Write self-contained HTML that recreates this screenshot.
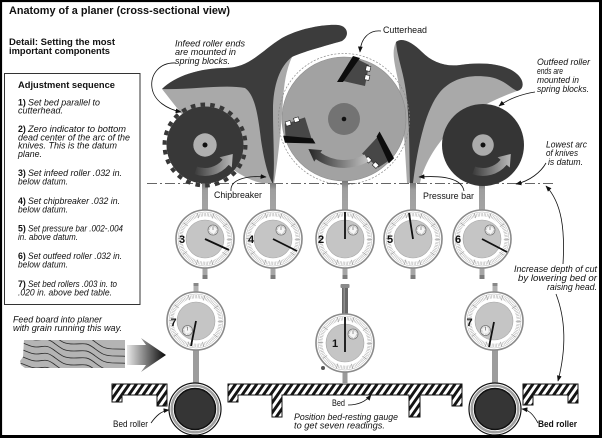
<!DOCTYPE html>
<html><head><meta charset="utf-8"><style>
html,body{margin:0;padding:0;background:#fff;}
svg{display:block;}
text{font-family:"Liberation Sans",Arial,sans-serif;fill:#111;}
.i{font-style:italic;font-size:8.8px;}
.b{font-weight:bold;}
.r{font-size:9.3px;}
.num{font-weight:bold;font-size:11px;text-anchor:middle;}
.ld{fill:none;stroke:#111;stroke-width:0.8;marker-end:url(#ah);}
</style></head><body>
<svg width="602" height="438" viewBox="0 0 602 438" xmlns="http://www.w3.org/2000/svg" xmlns:xlink="http://www.w3.org/1999/xlink">
<defs>
<marker id="ah" markerUnits="userSpaceOnUse" markerWidth="6" markerHeight="6" viewBox="0 0 10 10" refX="9" refY="5" orient="auto"><path d="M0,1 L10,5 L0,9 z" fill="#111"/></marker>
<pattern id="hatch" patternUnits="userSpaceOnUse" width="5.8" height="6" patternTransform="rotate(35)"><rect width="5.8" height="6" fill="#fff"/><rect width="2.9" height="6" fill="#151515"/></pattern>
<linearGradient id="gA" x1="0" x2="1" y1="0" y2="0"><stop offset="0" stop-color="#3a3a3a"/><stop offset="1" stop-color="#b8b8b8"/></linearGradient>
<linearGradient id="gC" x1="0" x2="1" y1="0" y2="0"><stop offset="0" stop-color="#252525"/><stop offset="1" stop-color="#c2c2c2"/></linearGradient>
<linearGradient id="gB" x1="0" x2="1" y1="0" y2="0"><stop offset="0" stop-color="#e8e8e8"/><stop offset="1" stop-color="#080808"/></linearGradient>
<linearGradient id="stem" x1="0" x2="0" y1="0" y2="1"><stop offset="0" stop-color="#777"/><stop offset="0.25" stop-color="#9e9e9e"/><stop offset="1" stop-color="#a4a4a4"/></linearGradient>
<clipPath id="boardClip"><path d="M24,340 L125,340 L125,368 L25,368 L21,365 L20,361 L23,357 Z"/></clipPath>
<g id="face">
<circle r="29" fill="#fff" stroke="#8a8a8a" stroke-width="1.6"/>
<circle r="27" fill="none" stroke="#b5b5b5" stroke-width="0.5"/>
<circle r="24.3" fill="none" stroke="#a8a8a8" stroke-width="3.4" stroke-dasharray="0.5 1.03"/>
<circle r="24.3" fill="none" stroke="#999" stroke-width="5" stroke-dasharray="0.7 14.57"/>
<circle r="19" fill="#c5c5c5" stroke="#a5a5a5" stroke-width="0.6"/>
</g>
<g id="sub">
<circle r="5" fill="#f6f6f6" stroke="#777" stroke-width="0.8"/>
<circle r="3.7" fill="none" stroke="#999" stroke-width="1.3" stroke-dasharray="0.4 1.05"/>
<line x1="0" y1="0" x2="0" y2="-3.5" stroke="#555" stroke-width="0.6"/>
</g>
<g id="knife">
<polygon points="343,81 357,59 369,65 365,86" fill="#474747"/>
<polygon points="337,82 353,56 360,58 343,82" fill="#0d0d0d"/>
<rect x="366" y="66" width="4.5" height="5" fill="#fff" stroke="#222" stroke-width="0.6" transform="rotate(13 368 68)"/>
<rect x="365" y="75" width="4.5" height="5" fill="#fff" stroke="#222" stroke-width="0.6" transform="rotate(13 367 77)"/>
</g>
</defs>

<rect x="0" y="0" width="602" height="438" fill="#fff"/>

<!-- Title & headings -->
<text x="9" y="14" class="b" font-size="11" textLength="221" lengthAdjust="spacingAndGlyphs">Anatomy of a planer (cross-sectional view)</text>
<text x="9" y="45" class="b" font-size="9" textLength="106" lengthAdjust="spacingAndGlyphs">Detail: Setting the most</text>
<text x="9" y="54" class="b" font-size="9" textLength="101" lengthAdjust="spacingAndGlyphs">important components</text>

<!-- Adjustment box -->
<rect x="4.5" y="73.5" width="135.5" height="231" fill="none" stroke="#333" stroke-width="1"/>
<text x="18" y="88" class="b" font-size="9.3" textLength="97" lengthAdjust="spacingAndGlyphs">Adjustment sequence</text>

<text x="18" y="105.5" class="b" font-size="8.8">1)</text>
<text x="28" y="105.5" class="i" textLength="72" lengthAdjust="spacingAndGlyphs">Set bed parallel to</text>
<text x="18" y="113.5" class="i" textLength="45" lengthAdjust="spacingAndGlyphs">cutterhead.</text>

<text x="18" y="132" class="b" font-size="8.8">2)</text>
<text x="28" y="132" class="i" textLength="98" lengthAdjust="spacingAndGlyphs">Zero indicator to bottom</text>
<text x="18" y="140.3" class="i" textLength="112" lengthAdjust="spacingAndGlyphs">dead center of the arc of the</text>
<text x="18" y="148.6" class="i" textLength="99" lengthAdjust="spacingAndGlyphs">knives. This is the datum</text>
<text x="18" y="157" class="i" textLength="24" lengthAdjust="spacingAndGlyphs">plane.</text>

<text x="18" y="176" class="b" font-size="8.8">3)</text>
<text x="28" y="176" class="i" textLength="94" lengthAdjust="spacingAndGlyphs">Set infeed roller .032 in.</text>
<text x="18" y="184.5" class="i" textLength="50" lengthAdjust="spacingAndGlyphs">below datum.</text>

<text x="18" y="204" class="b" font-size="8.8">4)</text>
<text x="28" y="204" class="i" textLength="92" lengthAdjust="spacingAndGlyphs">Set chipbreaker .032 in.</text>
<text x="18" y="212.5" class="i" textLength="50" lengthAdjust="spacingAndGlyphs">below datum.</text>

<text x="18" y="231.5" class="b" font-size="8.8">5)</text>
<text x="28" y="231.5" class="i" textLength="95" lengthAdjust="spacingAndGlyphs">Set pressure bar .002-.004</text>
<text x="18" y="240" class="i" textLength="60" lengthAdjust="spacingAndGlyphs">in. above datum.</text>

<text x="18" y="259" class="b" font-size="8.8">6)</text>
<text x="28" y="259" class="i" textLength="94" lengthAdjust="spacingAndGlyphs">Set outfeed roller .032 in.</text>
<text x="18" y="267.5" class="i" textLength="50" lengthAdjust="spacingAndGlyphs">below datum.</text>

<text x="18" y="287" class="b" font-size="8.8">7)</text>
<text x="28" y="287" class="i" textLength="89" lengthAdjust="spacingAndGlyphs">Set bed rollers .003 in. to</text>
<text x="18" y="295.5" class="i" textLength="94" lengthAdjust="spacingAndGlyphs">.020 in. above bed table.</text>

<!-- Feed board -->
<text x="13" y="322.5" class="i" textLength="89" lengthAdjust="spacingAndGlyphs">Feed board into planer</text>
<text x="13" y="331" class="i" textLength="109" lengthAdjust="spacingAndGlyphs">with grain running this way.</text>
<path d="M24,340 L125,340 L125,368 L25,368 L21,365 L20,361 L23,357 Z" fill="#b4b4b4"/>
<g clip-path="url(#boardClip)" fill="none" stroke="#2a2a2a" stroke-width="0.8">
<path d="M16,322 c6,-3 12,4 20,4 s10,-3 18,3 s10,8 20,8 s12,-2 20,4 s10,8 22,8 s10,0 16,4"/>
<path d="M16,329 c6,-3 12,4 20,4 s10,-3 18,3 s10,8 20,8 s12,-2 20,4 s10,8 22,8 s10,0 16,4"/>
<path d="M16,336 c6,-3 12,4 20,4 s10,-3 18,3 s10,8 20,8 s12,-2 20,4 s10,8 22,8 s10,0 16,4"/>
<path d="M16,343 c6,-3 12,4 20,4 s10,-3 18,3 s10,8 20,8 s12,-2 20,4 s10,8 22,8 s10,0 16,4"/>
<path d="M16,350 c6,-3 12,4 20,4 s10,-3 18,3 s10,8 20,8 s12,-2 20,4 s10,8 22,8 s10,0 16,4"/>
<path d="M16,357 c6,-3 12,4 20,4 s10,-3 18,3 s10,8 20,8 s12,-2 20,4 s10,8 22,8 s10,0 16,4"/>
<path d="M16,364 c6,-3 12,4 20,4 s10,-3 18,3 s10,8 20,8 s12,-2 20,4 s10,8 22,8 s10,0 16,4"/>
</g>
<path d="M127,345 L146,345 L141,338 L166,355 L141,372 L146,365 L127,365 Z" fill="url(#gB)"/>

<!-- Left housing -->
<path d="M162,89 C175,76 200,68 225,68 C250,68 262,50 282,38 C300,28 325,24 338,25 C348,26 350,36 342,41 C325,46 302,52 292,57 C286,70 284,85 283,100 C281,130 278,160 274,184 L262,183 C245,180 225,165 210,150 C195,130 180,112 162,89 Z" fill="#a9a9a9"/>
<path d="M162,89 C175,76 200,68 225,68 C250,68 262,50 282,38 C300,28 325,24 338,25 C348,26 350,36 342,41 C325,46 302,52 292,57 C280,66 273,85 273,110 C273,140 275,165 273,184 C268,176 264,160 261,140 C258,115 255,95 245,88 C225,84 190,90 162,89 Z" fill="#3c3c3c"/>

<!-- Right housing -->
<path d="M396,42 C402,37 412,42 422,52 C432,62 445,67 460,65 C480,62 505,63 517,74 C525,81 524,90 517,91 C500,97 475,108 455,125 C440,140 425,160 420,183 L407,183 C405,150 403,110 398,80 C395,65 391,52 396,42 Z" fill="#a9a9a9"/>
<path d="M396,42 C402,37 412,42 422,52 C432,62 445,67 460,65 C480,62 505,63 517,74 C525,81 524,90 517,91 C510,88 505,80 490,77 C470,74 452,78 440,92 C425,110 417,150 413,183 L410,183 C409,150 410,110 404,80 C401,65 397,55 396,42 Z" fill="#3c3c3c"/>

<!-- Cutterhead -->
<circle cx="344" cy="119" r="65.5" fill="none" stroke="#8a8a8a" stroke-width="0.7" stroke-dasharray="2 1.6"/>
<circle cx="344" cy="119" r="62" fill="#a2a2a2" stroke="#8c8c8c" stroke-width="0.6"/>
<use xlink:href="#knife"/>
<use xlink:href="#knife" transform="rotate(120 344 119)"/>
<use xlink:href="#knife" transform="rotate(240 344 119)"/>
<circle cx="344" cy="119" r="16" fill="#737373"/>
<circle cx="344" cy="119" r="2.3" fill="#111"/>
<path d="M368.5,161.4 A49,49 0 0 1 315.9,159.1 L314.2,161.6 L308.4,149 L322.2,150.1 L320.5,152.6 A41,41 0 0 0 364.5,154.5 Z" fill="url(#gC)"/>

<!-- Datum line -->
<line x1="147" y1="183.5" x2="556" y2="183.5" stroke="#666" stroke-width="0.9" stroke-dasharray="10 3 2 3"/>

<!-- Upper stems -->
<rect x="202" y="183" width="6" height="28" fill="url(#stem)"/>
<rect x="270" y="183" width="6" height="28" fill="url(#stem)"/>
<rect x="342" y="181" width="6" height="30" fill="url(#stem)"/>
<rect x="410" y="183" width="6" height="28" fill="url(#stem)"/>
<rect x="479" y="183" width="6" height="28" fill="url(#stem)"/>
<g fill="#a5a5a5">
<rect x="202.5" y="266" width="5" height="12"/><rect x="270.5" y="266" width="5" height="12"/><rect x="342.5" y="266" width="5" height="12"/><rect x="410.5" y="266" width="5" height="12"/><rect x="479.5" y="266" width="5" height="12"/>
</g>
<g fill="#7c7c7c">
<rect x="202.5" y="275" width="5" height="4"/><rect x="270.5" y="275" width="5" height="4"/><rect x="342.5" y="275" width="5" height="4"/><rect x="410.5" y="275" width="5" height="4"/><rect x="479.5" y="275" width="5" height="4"/>
</g>

<!-- Infeed gear roller -->
<circle cx="205" cy="145" r="38.5" fill="#383838"/>
<circle cx="205" cy="145" r="40.5" fill="none" stroke="#383838" stroke-width="4" stroke-dasharray="4.6 5.19"/>
<circle cx="205" cy="145" r="11.7" fill="#b0b0b0"/>
<circle cx="205" cy="145" r="2.5" fill="#111"/>
<path d="M197.1,166.6 A23,23 0 0 0 222.6,159.8 L219.6,157.2 L232.8,154 L231.8,167.5 L228.7,164.9 A31,31 0 0 1 194.4,174.1 Z" fill="url(#gA)"/>

<!-- Outfeed roller -->
<circle cx="483" cy="145" r="41" fill="#353535"/>
<circle cx="483" cy="145" r="10.8" fill="#ababab"/>
<circle cx="483" cy="145" r="2.5" fill="#111"/>
<path d="M475.1,166.6 A23,23 0 0 0 500.6,159.8 L497.6,157.2 L510.8,154 L509.8,167.5 L506.7,164.9 A31,31 0 0 1 472.4,174.1 Z" fill="url(#gA)"/>

<!-- Upper gauges -->
<g transform="translate(205,239)"><use xlink:href="#face"/><use xlink:href="#sub" transform="translate(8,-9)"/><line x1="0" y1="0" x2="24" y2="11" stroke="#111" stroke-width="1.8"/><text x="-23" y="4" class="num">3</text></g>
<g transform="translate(273,239)"><use xlink:href="#face"/><use xlink:href="#sub" transform="translate(8,-9)"/><line x1="0" y1="0" x2="24" y2="12" stroke="#111" stroke-width="1.8"/><text x="-22" y="4" class="num">4</text></g>
<g transform="translate(345,239)"><use xlink:href="#face"/><use xlink:href="#sub" transform="translate(8,-9)"/><line x1="0" y1="0" x2="0" y2="-27" stroke="#111" stroke-width="1.8"/><text x="-24" y="4" class="num">2</text></g>
<g transform="translate(413,239)"><use xlink:href="#face"/><use xlink:href="#sub" transform="translate(8,-9)"/><line x1="0" y1="0" x2="-4" y2="-26" stroke="#111" stroke-width="1.8"/><text x="-23" y="4" class="num">5</text></g>
<g transform="translate(482,239)"><use xlink:href="#face"/><use xlink:href="#sub" transform="translate(8,-9)"/><line x1="0" y1="0" x2="25" y2="13" stroke="#111" stroke-width="1.8"/><text x="-24" y="4" class="num">6</text></g>

<!-- Bed -->
<path d="M112,384 L167,384 L167,406 L157,406 L157,395 L122,395 L122,402 L112,402 Z" fill="url(#hatch)" stroke="#111" stroke-width="1"/>
<path d="M228,384 L462,384 L462,406 L452,406 L452,395 L420,395 L420,417 L409,417 L409,395 L282,395 L282,417 L272,417 L272,395 L238,395 L238,402 L228,402 Z" fill="url(#hatch)" stroke="#111" stroke-width="1"/>
<path d="M523,384 L578,384 L578,403 L568,403 L568,395 L533,395 L533,405 L523,405 Z" fill="url(#hatch)" stroke="#111" stroke-width="1"/>

<!-- Lower stems -->
<rect x="193" y="349" width="6" height="35" fill="#9c9c9c"/>
<rect x="492" y="349" width="6" height="35" fill="#9c9c9c"/>
<rect x="193.5" y="283" width="5" height="10" fill="#b0b0b0"/><rect x="193.5" y="283" width="5" height="3" fill="#888"/>
<rect x="492.5" y="283" width="5" height="10" fill="#b0b0b0"/><rect x="492.5" y="283" width="5" height="3" fill="#888"/>
<rect x="342" y="287" width="6" height="27" fill="#686868"/><rect x="343.5" y="287" width="1.5" height="27" fill="#8e8e8e"/>
<rect x="340.5" y="284" width="9" height="4" rx="1" fill="#8a8a8a"/>
<rect x="342.5" y="371" width="5" height="13" fill="#9a9a9a"/>

<!-- Bed rollers -->
<g transform="translate(195,409)"><circle r="26" fill="#fff" stroke="#111" stroke-width="1.2"/><circle r="23.3" fill="none" stroke="#a0a0a0" stroke-width="2.4"/><circle r="20.5" fill="#353535" stroke="#111" stroke-width="1.5"/></g>
<g transform="translate(495,409)"><circle r="26" fill="#fff" stroke="#111" stroke-width="1.2"/><circle r="23.3" fill="none" stroke="#a0a0a0" stroke-width="2.4"/><circle r="20.5" fill="#353535" stroke="#111" stroke-width="1.5"/></g>

<!-- Lower gauges -->
<g transform="translate(196,321)"><use xlink:href="#face"/><use xlink:href="#sub" transform="translate(-8.5,9.5)"/><line x1="0" y1="0" x2="-5" y2="25" stroke="#111" stroke-width="1.8"/><text x="-22.5" y="5" class="num">7</text></g>
<g transform="translate(494,321)"><use xlink:href="#face"/><use xlink:href="#sub" transform="translate(-8.5,9.5)"/><line x1="0" y1="1" x2="-5" y2="26" stroke="#111" stroke-width="1.8"/><text x="-24.5" y="5" class="num">7</text></g>
<g transform="translate(345,343)"><use xlink:href="#face"/><use xlink:href="#sub" transform="translate(8,-9)"/><line x1="0" y1="9" x2="0" y2="-26" stroke="#111" stroke-width="1.8"/><text x="-10" y="4" class="num">1</text><circle cx="-22" cy="25" r="2" fill="#555"/></g>

<!-- Labels -->
<text x="175" y="46.5" class="i" textLength="70" lengthAdjust="spacingAndGlyphs">Infeed roller ends</text>
<text x="175" y="55" class="i" textLength="61" lengthAdjust="spacingAndGlyphs">are mounted in</text>
<text x="175" y="64" class="i" textLength="55" lengthAdjust="spacingAndGlyphs">spring blocks.</text>
<text x="383" y="33" class="r" textLength="44" lengthAdjust="spacingAndGlyphs">Cutterhead</text>
<text x="537" y="65" class="i" textLength="53" lengthAdjust="spacingAndGlyphs">Outfeed roller</text>
<text x="537" y="74" class="i" textLength="26" lengthAdjust="spacingAndGlyphs">ends are</text>
<text x="537" y="83" class="i" textLength="42" lengthAdjust="spacingAndGlyphs">mounted in</text>
<text x="537" y="92" class="i" textLength="52" lengthAdjust="spacingAndGlyphs">spring blocks.</text>
<text x="546" y="147.5" class="i" textLength="41" lengthAdjust="spacingAndGlyphs">Lowest arc</text>
<text x="546" y="156" class="i" textLength="32" lengthAdjust="spacingAndGlyphs">of knives</text>
<text x="548" y="165" class="i" textLength="35" lengthAdjust="spacingAndGlyphs">is datum.</text>
<text x="214" y="198" class="r" textLength="48" lengthAdjust="spacingAndGlyphs">Chipbreaker</text>
<text x="423" y="199" class="r" textLength="51" lengthAdjust="spacingAndGlyphs">Pressure bar</text>
<text x="597" y="272" class="i" text-anchor="end" textLength="83" lengthAdjust="spacingAndGlyphs">Increase depth of cut</text>
<text x="597" y="281" class="i" text-anchor="end" textLength="79" lengthAdjust="spacingAndGlyphs">by lowering bed or</text>
<text x="597" y="290" class="i" text-anchor="end" textLength="50" lengthAdjust="spacingAndGlyphs">raising head.</text>
<text x="113" y="427" class="r" font-size="9" textLength="35" lengthAdjust="spacingAndGlyphs">Bed roller</text>
<text x="332" y="406" class="r" font-size="9" textLength="13" lengthAdjust="spacingAndGlyphs">Bed</text>
<text x="294" y="420" class="i" textLength="104" lengthAdjust="spacingAndGlyphs">Position bed-resting gauge</text>
<text x="294" y="428.5" class="i" textLength="91" lengthAdjust="spacingAndGlyphs">to get seven readings.</text>
<text x="538" y="427" class="r b" font-size="9" textLength="39" lengthAdjust="spacingAndGlyphs">Bed roller</text>

<!-- Leaders -->
<path class="ld" d="M176,63 C160,62 150,74 152,88 C154,101 167,109 181,112"/>
<path class="ld" d="M381,31 C370,30 361,37 360,52"/>
<path class="ld" d="M535,92 C522,94 508,99 499,106"/>
<path class="ld" d="M546,163 C541,172 530,181 516,184"/>
<path class="ld" d="M231,191 C230,181 243,175 266,177"/>
<path class="ld" d="M464,191 C462,180 447,175 419,177"/>
<path class="ld" d="M563,264 C565,230 562,203 546,186"/>
<path class="ld" d="M556,294 C566,320 566,350 558,381"/>
<path class="ld" d="M151,423 C156,416 161,411 169,410"/>
<path class="ld" d="M348,405 C360,405 367,400 371,395"/>
<path class="ld" d="M538,423 C533,414 529,410 522,409"/>

<!-- Frame -->
<rect x="1" y="1" width="599.5" height="435.5" fill="none" stroke="#000" stroke-width="2.2"/>
<line x1="0" y1="436.5" x2="602" y2="436.5" stroke="#000" stroke-width="3"/>
<line x1="600.5" y1="0" x2="600.5" y2="438" stroke="#000" stroke-width="3"/>
</svg>
</body></html>
